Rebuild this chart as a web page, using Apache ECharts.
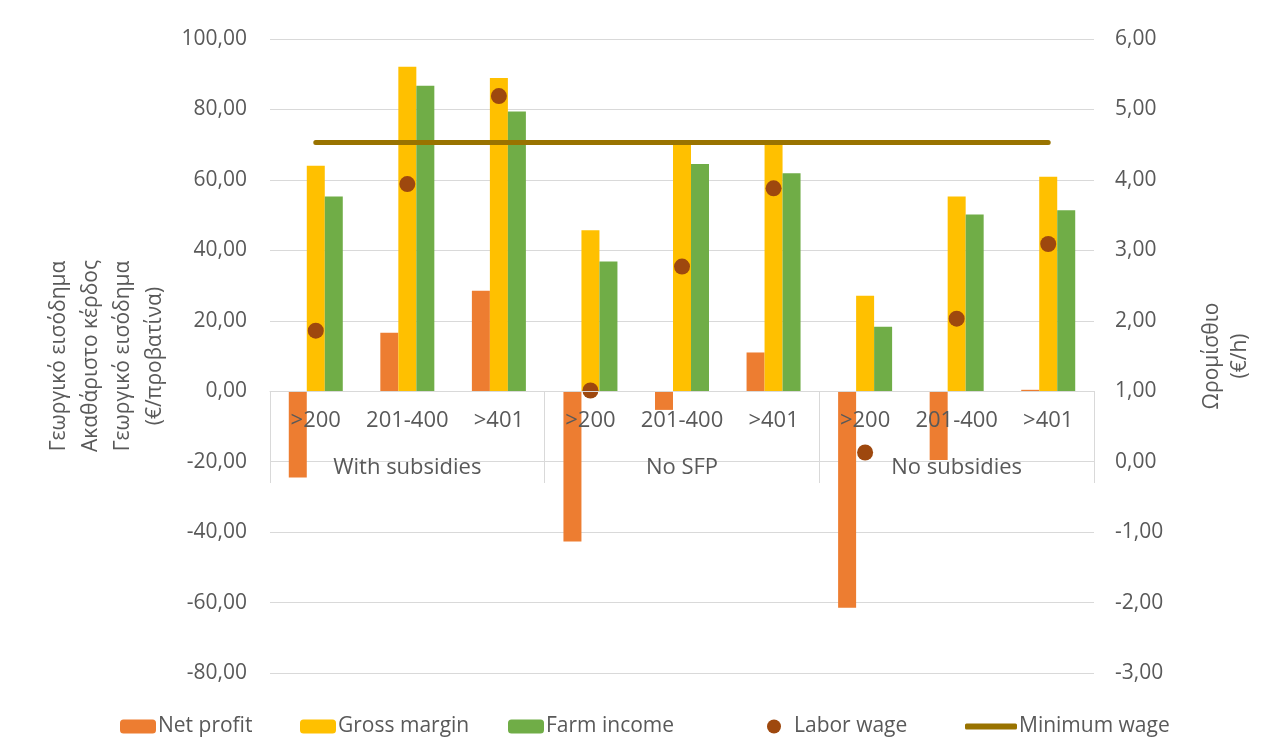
<!DOCTYPE html>
<html>
<head>
<meta charset="utf-8">
<script src="https://cdn.jsdelivr.net/npm/echarts@6/dist/echarts.min.js"></script>
<style>
  html, body { margin: 0; padding: 0; background: #fff; }
  #chart { width: 1262px; height: 756px; }
</style>
</head>
<body>
<div id="chart"></div>
<script>
var myChart = echarts.init(document.getElementById('chart'));

// κατηγορίες (μέγεθος εκμετάλλευσης) και ομάδες σεναρίων
var sizes = ['>200', '201-400', '>401', '>200', '201-400', '>401', '>200', '201-400', '>401'];
var groups = ['With subsidies', 'No SFP', 'No subsidies'];

// αριστερός άξονας (€/προβατίνα)
var netProfit = [-24.5, 16.6, 28.5, -42.7, -5.3, 11.0, -61.5, -19.5, 0.4];
var grossMargin = [64.0, 92.1, 88.9, 45.7, 70.2, 70.6, 27.1, 55.3, 60.9];
var farmIncome = [55.3, 86.7, 79.4, 36.8, 64.5, 61.9, 18.3, 50.2, 51.4];

// δεξιός άξονας (€/h)
var laborWage = [1.86, 3.94, 5.19, 1.01, 2.77, 3.88, 0.13, 2.03, 3.09];
var minimumWage = [4.53, 4.53, 4.53, 4.53, 4.53, 4.53, 4.53, 4.53, 4.53];

var font = 'Open Sans';
var grey = '#595959';

function fmt(v) {
  return v.toFixed(2).replace('.', ',');
}

// ένα υπόμνημα ανά σειρά, για να ταιριάζουν οι θέσεις
function legendItem(name, left, extra) {
  var l = {
    left: left,
    top: 711,
    itemWidth: 36,
    itemHeight: 14,
    textStyle: { fontSize: 21, color: grey, fontFamily: font, padding: [0, 0, 0, -3] },
    data: [name]
  };
  for (var k in extra) l[k] = extra[k];
  return l;
}

var option = {
  animation: false,
  textStyle: { fontFamily: font },
  grid: { left: 270, right: 166, top: 39, bottom: 83 },
  legend: [
    legendItem('Net profit', 115),
    legendItem('Gross margin', 295),
    legendItem('Farm income', 503),
    legendItem('Labor wage', 762, { icon: 'circle' }),
    legendItem('Minimum wage', 960, { icon: 'roundRect', itemWidth: 52, itemHeight: 6 })
  ],
  xAxis: {
    type: 'category',
    data: sizes,
    z: 10,
    offset: -282,
    axisLine: { onZero: false, lineStyle: { color: '#d9d9d9', width: 1 } },
    axisTick: {
      show: true,
      length: 92,
      interval: function (idx) { return idx % 3 === 0; },
      lineStyle: { color: '#d9d9d9' }
    },
    axisLabel: {
      interval: 0,
      margin: 18,
      formatter: function (value, idx) {
        if (idx % 3 === 1) {
          return '{a|' + value + '}\n{g|' + groups[Math.floor(idx / 3)] + '}';
        }
        return '{a|' + value + '}';
      },
      rich: {
        a: { fontSize: 22, lineHeight: 24, color: grey, fontFamily: font },
        g: { fontSize: 22, lineHeight: 70, color: grey, fontFamily: font }
      }
    }
  },
  yAxis: [
    {
      type: 'value',
      min: -80,
      max: 100,
      interval: 20,
      name: 'Γεωργικό εισόδημα\nΑκαθάριστο κέρδος\nΓεωργικό εισόδημα\n(€/προβατίνα)',
      nameLocation: 'middle',
      nameGap: 93,
      nameTextStyle: { fontSize: 21, lineHeight: 32, color: grey, fontFamily: font },
      axisLine: { show: false },
      axisTick: { show: false },
      axisLabel: { fontSize: 21, color: grey, margin: 23, formatter: fmt },
      splitLine: { lineStyle: { color: '#d9d9d9', width: 1 } }
    },
    {
      type: 'value',
      min: -3,
      max: 6,
      interval: 1,
      name: 'Ωρομίσθιο\n(€/h)',
      nameLocation: 'middle',
      nameGap: 104,
      nameRotate: 90,
      nameTextStyle: { fontSize: 21, lineHeight: 28, color: grey, fontFamily: font },
      axisLine: { show: false },
      axisTick: { show: false },
      axisLabel: { fontSize: 21, color: grey, margin: 21, formatter: fmt },
      splitLine: { show: false }
    }
  ],
  series: [
    {
      name: 'Net profit',
      type: 'bar',
      data: netProfit,
      barWidth: 18,
      barGap: '0%',
      itemStyle: { color: '#ED7D31' }
    },
    {
      name: 'Gross margin',
      type: 'bar',
      data: grossMargin,
      barWidth: 18,
      barGap: '0%',
      itemStyle: { color: '#FFC000' }
    },
    {
      name: 'Farm income',
      type: 'bar',
      data: farmIncome,
      barWidth: 18,
      barGap: '0%',
      itemStyle: { color: '#70AD47' }
    },
    {
      name: 'Labor wage',
      type: 'scatter',
      yAxisIndex: 1,
      data: laborWage,
      symbol: 'circle',
      symbolSize: 16,
      z: 5,
      itemStyle: { color: '#9E480E', opacity: 1 }
    },
    {
      name: 'Minimum wage',
      type: 'line',
      yAxisIndex: 1,
      data: minimumWage,
      symbol: 'none',
      z: 4,
      lineStyle: { color: '#997300', width: 5, cap: 'round' },
      itemStyle: { color: '#997300' }
    }
  ]
};

myChart.setOption(option);
</script>
</body>
</html>
